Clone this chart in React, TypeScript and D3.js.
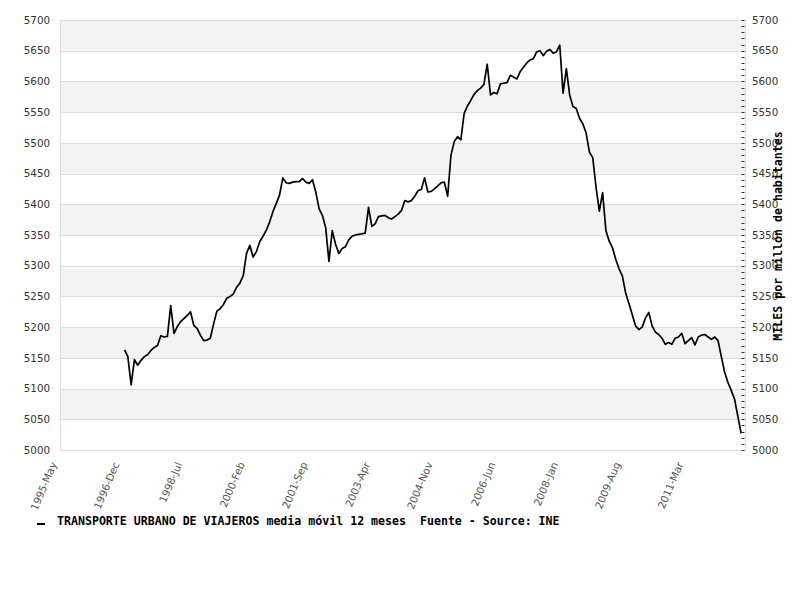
import React from "react";
import * as d3 from "d3";

// Category axis: monthly, tick labels every 19 months starting 1995-May
const tickLabels = [
  "1995-May", "1996-Dec", "1998-Jul", "2000-Feb", "2001-Sep", "2003-Apr",
  "2004-Nov", "2006-Jun", "2008-Jan", "2009-Aug", "2011-Mar",
];
const tickStep = 19;
const totalSlots = 208;
const firstIndex = 20; // first value = 1997-Jan

// TRANSPORTE URBANO DE VIAJEROS media móvil 12 meses (MILES por millón de habitantes)
const values = [
  5163, 5152, 5106, 5147, 5138, 5146, 5152, 5155, 5162, 5167,
  5170, 5186, 5184, 5185, 5235, 5190, 5201, 5209, 5214, 5219,
  5225, 5203, 5198, 5187, 5178, 5179, 5182, 5205, 5226, 5230,
  5237, 5247, 5250, 5254, 5265, 5272, 5284, 5320, 5333, 5314,
  5323, 5339, 5348, 5358, 5371, 5388, 5401, 5415, 5443, 5435,
  5434, 5436, 5437, 5437, 5442, 5436, 5434, 5440, 5420, 5393,
  5382, 5362, 5307, 5357, 5335, 5320, 5328, 5331, 5342, 5348,
  5350, 5351, 5352, 5353, 5395, 5364, 5368, 5380, 5381, 5382,
  5378, 5376, 5380, 5384, 5390, 5406, 5404, 5406, 5413, 5422,
  5424, 5443, 5420, 5421, 5425, 5430, 5435, 5436, 5413, 5480,
  5502, 5510, 5505, 5548, 5560, 5569, 5579, 5585, 5589, 5595,
  5628, 5578, 5582, 5580, 5596, 5597, 5598, 5610, 5607, 5604,
  5616, 5623, 5630, 5635, 5637, 5648, 5650, 5642, 5649, 5652,
  5646, 5648, 5659, 5581, 5621, 5578, 5559, 5556, 5540, 5531,
  5516, 5485, 5476, 5428, 5389, 5419, 5357, 5340, 5329, 5310,
  5295, 5283, 5255, 5238, 5220, 5202, 5196, 5200, 5215, 5224,
  5202, 5192, 5188, 5182, 5172, 5175, 5172, 5182, 5184, 5190,
  5173, 5178, 5183, 5171, 5184, 5187, 5188, 5184, 5180, 5184,
  5178, 5152, 5127, 5110, 5097, 5083, 5055, 5027,
];

const yMin = 5000;
const yMax = 5700;
const yMajor = 50;
const yMinor = 10;

const legendText = "TRANSPORTE URBANO DE VIAJEROS media móvil 12 meses  Fuente - Source: INE";
const axisTitle = "MILES por millón de habitantes";

export default function App() {
  const W = 800;
  const H = 600;
  const left = 60;
  const right = 745;
  const top = 20;
  const bottom = 450;

  const x = d3.scaleLinear().domain([0, totalSlots]).range([58.6, 744.4]);
  const y = d3.scaleLinear().domain([yMin, yMax]).range([bottom, top]);

  const majorTicks = d3.range(yMin, yMax + 1, yMajor);
  const minorTicks = d3.range(yMin, yMax + 1, yMinor);
  const bands = d3.range(yMin, yMax, yMajor);

  const line = d3
    .line<number>()
    .x((_, i) => x(firstIndex + i))
    .y((d) => y(d));

  const axisFont = "'DejaVu Sans', sans-serif";
  const monoFont = "'DejaVu Sans Mono', monospace";

  return (
    <svg
      width={W}
      height={H}
      style={{ position: "absolute", left: 0, top: 0, background: "#fff" }}
    >
      <defs>
        <clipPath id="xlabClip">
          <rect x={0} y={bottom} width={W} height={59} />
        </clipPath>
      </defs>
      {/* bands */}
      {bands.map((b, i) =>
        i % 2 === 1 ? (
          <rect
            key={"b" + b}
            x={left}
            y={y(b + yMajor)}
            width={right - left}
            height={y(b) - y(b + yMajor)}
            fill="#f3f3f3"
          />
        ) : null
      )}
      {/* grid */}
      {majorTicks.map((t) => (
        <line
          key={"g" + t}
          x1={left}
          x2={right}
          y1={Math.round(y(t)) + 0.5}
          y2={Math.round(y(t)) + 0.5}
          stroke="#dddddd"
          strokeWidth={1}
        />
      ))}
      {/* borders */}
      <line x1={left + 0.5} x2={left + 0.5} y1={top} y2={bottom + 0.5} stroke="#dddddd" />
      <line x1={right + 0.5} x2={right + 0.5} y1={top} y2={bottom + 0.5} stroke="#dddddd" />
      {/* left labels */}
      {majorTicks.map((t) => (
        <text
          key={"l" + t}
          x={50}
          y={y(t)}
          dy="0.36em"
          textAnchor="end"
          fontFamily={axisFont}
          fontSize={10.3}
          fill="#333"
        >
          {t}
        </text>
      ))}
      {/* right minor ticks */}
      {minorTicks.map((t) => (
        <line
          key={"m" + t}
          x1={741.5}
          x2={744.5}
          y1={Math.round(y(t)) + 0.5}
          y2={Math.round(y(t)) + 0.5}
          stroke="#333"
          strokeWidth={1}
        />
      ))}
      {/* right labels */}
      {majorTicks.map((t) => (
        <text
          key={"r" + t}
          x={752}
          y={y(t)}
          dy="0.36em"
          textAnchor="start"
          fontFamily={axisFont}
          fontSize={10.3}
          fill="#333"
        >
          {t}
        </text>
      ))}
      {/* x labels */}
      <g clipPath="url(#xlabClip)">
        {tickLabels.map((lab, k) => (
          <text
            key={"x" + lab}
            transform={`translate(${x(k * tickStep) - 1.5},${464}) rotate(-67)`}
            textAnchor="end"
            fontFamily={axisFont}
            fontSize={10.3}
            fill="#555"
          >
            {lab}
          </text>
        ))}
      </g>
      {/* data line */}
      <path
        d={line(values) || ""}
        fill="none"
        stroke="#000"
        strokeWidth={1.7}
        strokeLinejoin="round"
      />
      {/* right axis title */}
      <text
        transform="translate(782,236) rotate(-90)"
        textAnchor="middle"
        fontFamily={monoFont}
        fontWeight="bold"
        fontSize={11.6}
        fill="#000"
      >
        {axisTitle}
      </text>
      {/* legend */}
      <line x1={37} x2={45} y1={524} y2={524} stroke="#000" strokeWidth={2} />
      <text
        x={57}
        y={525}
        fontFamily={monoFont}
        fontWeight="bold"
        fontSize={11.6}
        fill="#000"
        style={{ whiteSpace: "pre" }}
      >
        {legendText}
      </text>
    </svg>
  );
}
